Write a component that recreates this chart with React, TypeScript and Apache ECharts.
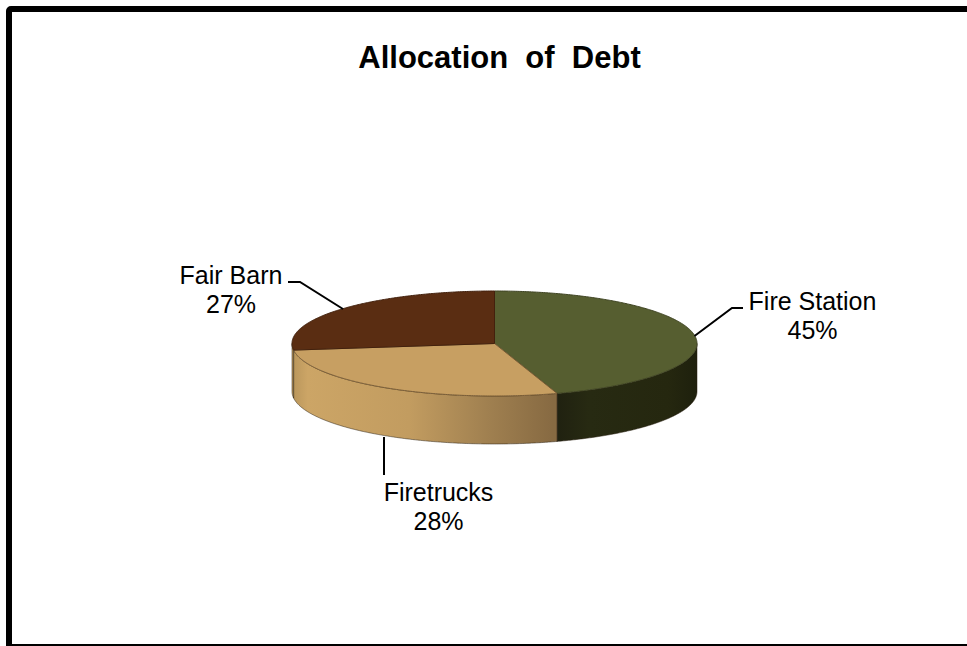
import React, { useEffect, useRef } from "react";
import * as echarts from "echarts";

const chartTitle = "Allocation\u00a0 of\u00a0 Debt";
const categories = ["Fire Station", "Firetrucks", "Fair Barn"];
const shares = [45, 28, 27];

// Disc geometry: an ellipse seen in perspective with a solid rim below it.
const CX = 494.5;
const CY = 343.5;
const RX = 202.5;
const RY = 52.5;
const DEPTH = 48;

const topFills = ["#565E30", "#C79F62", "#5A2D12"];
const topEdges = ["#3F4423", "#7A5D36", "#43210D"];

const rimFill = (i: number) => {
  if (i === 0) {
    return new echarts.graphic.LinearGradient(
      553, 0, 697, 0,
      [
        { offset: 0, color: "#1F2010" },
        { offset: 0.25, color: "#272A12" },
        { offset: 0.8, color: "#25270F" },
        { offset: 1, color: "#1E200D" },
      ],
      true
    );
  }
  if (i === 1) {
    return new echarts.graphic.LinearGradient(
      292, 0, 553, 0,
      [
        { offset: 0, color: "#B8955B" },
        { offset: 0.06, color: "#CCA566" },
        { offset: 0.45, color: "#C29C60" },
        { offset: 0.75, color: "#A08050" },
        { offset: 1, color: "#876A42" },
      ],
      true
    );
  }
  return "#B8955B";
};

// Leader lines and label centres, in page pixels.
const leaders = [
  { points: [[743, 308], [732, 308], [694.5, 336]], label: [812.5, 301] },
  { points: [[384, 437], [384, 475]], label: [438.5, 492] },
  { points: [[288, 282], [300, 282], [343, 309]], label: [231, 275] },
];

const pointAt = (deg: number, dy = 0) => {
  const t = (deg * Math.PI) / 180;
  return [CX + RX * Math.sin(t), CY - RY * Math.cos(t) + dy];
};

const arcPoints = (from: number, to: number, dy = 0) => {
  const out: number[][] = [];
  const steps = Math.max(2, Math.ceil(Math.abs(to - from) * 2));
  for (let s = 0; s <= steps; s++) {
    out.push(pointAt(from + ((to - from) * s) / steps, dy));
  }
  return out;
};

const total = shares.reduce((a, b) => a + b, 0);

const renderSlice = (params: any, api: any) => {
  const i = params.dataIndex;
  const before = shares.slice(0, i).reduce((a, b) => a + b, 0);
  const start = (before / total) * 360;
  const end = start + (api.value(0) / total) * 360;
  const children: any[] = [];

  // Rim: only the part of the arc facing the viewer.
  const rimFrom = Math.max(start, 90);
  const rimTo = Math.min(end, 270);
  if (rimTo > rimFrom) {
    children.push({
      type: "polygon",
      shape: { points: [...arcPoints(rimFrom, rimTo), ...arcPoints(rimTo, rimFrom, DEPTH)] },
      style: { fill: rimFill(i), stroke: "rgba(40,30,15,0.5)", lineWidth: 1 },
    });
  }

  // Top face.
  children.push({
    type: "polygon",
    shape: { points: [[CX, CY], ...arcPoints(start, end)] },
    style: { fill: topFills[i], stroke: topEdges[i], lineWidth: 1 },
  });

  const leader = leaders[i];
  children.push({
    type: "polyline",
    shape: { points: leader.points },
    style: { fill: "none", stroke: "#000", lineWidth: 2 },
  });
  children.push({
    type: "text",
    x: leader.label[0],
    y: leader.label[1],
    style: {
      text: `${categories[i]}\n${api.value(0)}%`,
      fill: "#000",
      font: '25px "Liberation Sans", Arial, sans-serif',
      align: "center",
      verticalAlign: "middle",
      lineHeight: 29,
      y: 14,
    },
  });

  return { type: "group", children };
};

export default function App() {
  const ref = useRef<HTMLDivElement>(null);

  useEffect(() => {
    const chart = echarts.init(ref.current!, undefined, { renderer: "svg" });
    chart.setOption({
      animation: false,
      backgroundColor: "#fff",
      title: {
        text: chartTitle,
        left: 494.5,
        top: 37,
        textAlign: "center",
        textStyle: {
          fontFamily: '"Liberation Sans", Arial, sans-serif',
          fontWeight: "bold",
          fontSize: 31,
          color: "#000",
        },
      },
      graphic: [
        {
          type: "rect",
          silent: true,
          shape: { x: 9, y: 9, width: 1000, height: 638, r: 2 },
          style: { fill: "none", stroke: "#000", lineWidth: 6 },
        },
      ],
      series: [
        {
          type: "custom",
          coordinateSystem: "none",
          silent: true,
          renderItem: renderSlice,
          data: shares.map((v) => [v]),
        },
      ],
    });
    return () => chart.dispose();
  }, []);

  return (
    <div
      ref={ref}
      style={{ position: "absolute", left: 0, top: 0, width: 967, height: 646 }}
    />
  );
}
